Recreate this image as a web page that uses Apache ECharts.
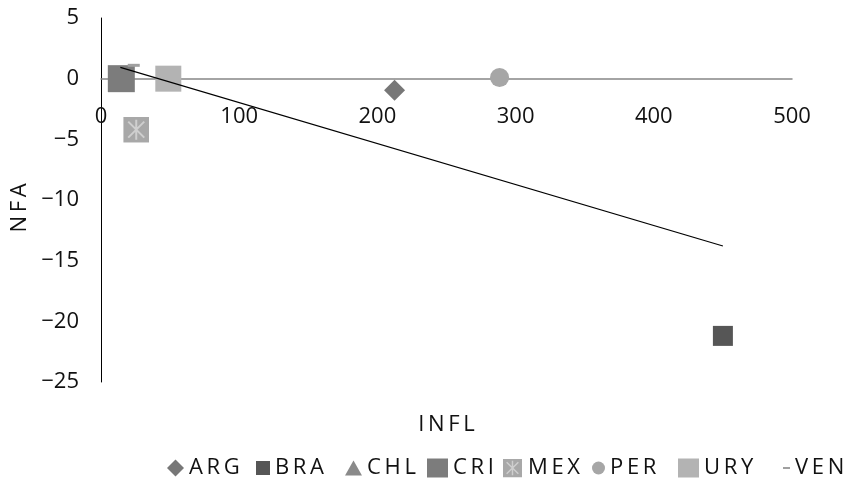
<!DOCTYPE html>
<html>
<head>
<meta charset="utf-8">
<script src="https://cdn.jsdelivr.net/npm/echarts@6/dist/echarts.min.js"></script>
<style>
  html, body { margin: 0; padding: 0; background: #fff; }
  #chart { width: 845px; height: 492px; }
</style>
</head>
<body>
<div id="chart"></div>
<script>
// Inflation (INFL) against net foreign assets (NFA) by country
const countries = ['ARG', 'BRA', 'CHL', 'CRI', 'MEX', 'PER', 'URY', 'VEN'];
const infl = [212.4, 450, 14, 14.7, 25.5, 288.4, 48.7, 23.7];
const nfa = [-0.95, -21.2, 0, 0, -4.2, 0.1, 0, 1.1];

// Axis ranges and tick spacing
const xRange = [0, 500, 100];
const yRange = [-25, 5, 5];

const FONT = '"Open Sans", "DejaVu Sans", sans-serif';
const spaced = s => s.split('').join('\u2009');

// Grey square with a light asterisk, used for MEX
const mexIcon = 'image://data:image/svg+xml;utf8,' + encodeURIComponent(
  "<svg xmlns='http://www.w3.org/2000/svg' width='26' height='26' viewBox='0 0 26 26'>" +
  "<rect width='26' height='26' fill='#a8a8a8'/>" +
  "<path d='M13 3V23M5 5L21 21M21 5L5 21' stroke='#cfcfcf' stroke-width='2' fill='none'/>" +
  "</svg>");

// Marker look per country
const markerStyle = {
  ARG: { symbol: 'diamond', size: 21, color: '#777777', legendSize: [17, 17], legendLeft: 167 },
  BRA: { symbol: 'rect', size: 20, color: '#565656', legendSize: [14, 14], legendLeft: 256 },
  CHL: { symbol: 'triangle', size: 20, color: '#8a8a8a', legendSize: [17, 15], legendLeft: 345 },
  CRI: { symbol: 'rect', size: 27, color: '#7c7c7c', legendSize: [21, 19], legendLeft: 427 },
  MEX: { symbol: mexIcon, size: 26, color: '#a8a8a8', legendSize: [21, 19], legendLeft: 502 },
  PER: { symbol: 'circle', size: 19, color: '#a6a6a6', legendSize: [13, 13], legendLeft: 592 },
  URY: { symbol: 'rect', size: 26, color: '#b3b3b3', legendSize: [21, 19], legendLeft: 678 },
  VEN: { symbol: 'rect', size: [12, 3], color: '#a0a0a0', legendSize: [7, 2], legendLeft: 783 }
};

// Least-squares trend through all points
function trend(xs, ys) {
  const n = xs.length;
  const mx = xs.reduce((a, b) => a + b, 0) / n;
  const my = ys.reduce((a, b) => a + b, 0) / n;
  let sxy = 0, sxx = 0;
  for (let i = 0; i < n; i++) {
    sxy += (xs[i] - mx) * (ys[i] - my);
    sxx += (xs[i] - mx) * (xs[i] - mx);
  }
  const slope = sxy / sxx;
  const b = my - slope * mx;
  const x0 = Math.min(...xs), x1 = Math.max(...xs);
  return [[x0, b + slope * x0], [x1, b + slope * x1]];
}

const scatterSeries = countries.map((c, i) => ({
  name: c,
  type: 'scatter',
  data: [[infl[i], nfa[i]]],
  symbol: markerStyle[c].symbol,
  symbolSize: markerStyle[c].size,
  itemStyle: { color: markerStyle[c].color, opacity: 1 },
  z: 2 + i,
  silent: true
}));

const legends = countries.map(c => ({
  left: markerStyle[c].legendLeft,
  top: 457,
  orient: 'horizontal',
  selectedMode: false,
  itemWidth: markerStyle[c].legendSize[0],
  itemHeight: markerStyle[c].legendSize[1],
  padding: 0,
  data: [{ name: c, icon: markerStyle[c].symbol, itemStyle: { color: markerStyle[c].color } }],
  formatter: name => spaced(name),
  textStyle: { fontFamily: FONT, fontSize: 22, color: '#111111' }
}));

const chart = echarts.init(document.getElementById('chart'), null, { renderer: 'canvas' });
chart.setOption({
  animation: false,
  backgroundColor: '#ffffff',
  grid: { left: 101, right: 53, top: 18, bottom: 110, containLabel: false, outerBoundsMode: 'none' },
  legend: legends,
  xAxis: {
    type: 'value',
    min: xRange[0], max: xRange[1], interval: xRange[2],
    name: spaced('INFL'),
    nameLocation: 'middle',
    nameGap: 32,
    nameTextStyle: { fontFamily: FONT, fontSize: 22, color: '#111111' },
    axisLine: { onZero: true, lineStyle: { color: '#878787', width: 1.5 } },
    axisTick: { show: false },
    splitLine: { show: false },
    // labels sit just under the zero line
    axisLabel: { fontFamily: FONT, fontSize: 22, color: '#111111', margin: -276 }
  },
  yAxis: {
    type: 'value',
    min: yRange[0], max: yRange[1], interval: yRange[2],
    name: spaced('NFA'),
    nameLocation: 'middle',
    nameGap: 67,
    nameRotate: 90,
    nameTextStyle: { fontFamily: FONT, fontSize: 22, color: '#111111', padding: [0, 16, 0, 0] },
    axisLine: { show: true, onZero: false, lineStyle: { color: '#000000', width: 1 } },
    axisTick: { show: false },
    splitLine: { show: false },
    axisLabel: {
      fontFamily: FONT, fontSize: 22, color: '#111111', margin: 22,
      formatter: v => String(v).replace('-', '\u2212')
    }
  },
  series: scatterSeries.concat([{
    name: 'trend',
    type: 'line',
    data: trend(infl, nfa),
    symbol: 'none',
    lineStyle: { color: '#000000', width: 1.2 },
    z: 20,
    silent: true
  }])
});
</script>
</body>
</html>
